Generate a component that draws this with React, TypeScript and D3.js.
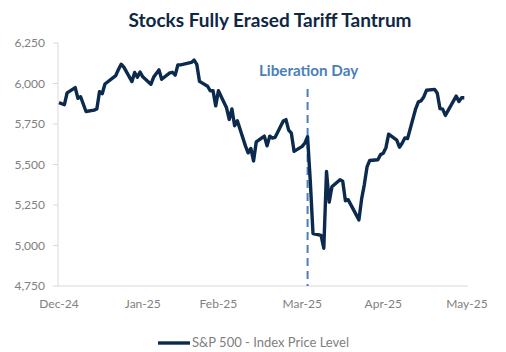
import React from "react";
import * as d3 from "d3";

const dates: string[] = [
  "2024-12-31",
  "2025-01-02","2025-01-03","2025-01-06","2025-01-07","2025-01-08","2025-01-10","2025-01-13","2025-01-14","2025-01-15","2025-01-16","2025-01-17","2025-01-21","2025-01-22","2025-01-23","2025-01-24","2025-01-27","2025-01-28","2025-01-29","2025-01-30","2025-01-31",
  "2025-02-03","2025-02-04","2025-02-05","2025-02-06","2025-02-07","2025-02-10","2025-02-11","2025-02-12","2025-02-13","2025-02-14","2025-02-18","2025-02-19","2025-02-20","2025-02-21","2025-02-24","2025-02-25","2025-02-26","2025-02-27","2025-02-28",
  "2025-03-03","2025-03-04","2025-03-05","2025-03-06","2025-03-07","2025-03-10","2025-03-11","2025-03-12","2025-03-13","2025-03-14","2025-03-17","2025-03-18","2025-03-19","2025-03-20","2025-03-21","2025-03-24","2025-03-25","2025-03-26","2025-03-27","2025-03-28","2025-03-31",
  "2025-04-01","2025-04-02","2025-04-03","2025-04-04","2025-04-07","2025-04-08","2025-04-09","2025-04-10","2025-04-11","2025-04-14","2025-04-15","2025-04-16","2025-04-17","2025-04-21","2025-04-22","2025-04-23","2025-04-24","2025-04-25","2025-04-28","2025-04-29","2025-04-30",
  "2025-05-01","2025-05-02","2025-05-05","2025-05-06","2025-05-07","2025-05-08","2025-05-09","2025-05-12","2025-05-13","2025-05-14","2025-05-15","2025-05-16","2025-05-19","2025-05-20","2025-05-21","2025-05-22","2025-05-23","2025-05-27","2025-05-28","2025-05-29","2025-05-30",
];

const spx: number[] = [
  5882,
  5869, 5942, 5975, 5909, 5918, 5827, 5836, 5843, 5950, 5937, 5997, 6049, 6086, 6119, 6101, 6012, 6068, 6039, 6071, 6041,
  5995, 6038, 6061, 6084, 6026, 6066, 6069, 6052, 6115, 6115, 6130, 6144, 6118, 6013, 5983, 5955, 5956, 5862, 5955,
  5850, 5778, 5843, 5739, 5770, 5615, 5572, 5599, 5522, 5639, 5675, 5615, 5675, 5663, 5668, 5768, 5777, 5712, 5693, 5581, 5612,
  5633, 5671, 5397, 5074, 5062, 4983, 5457, 5268, 5363, 5406, 5397, 5276, 5283, 5158, 5288, 5376, 5485, 5525, 5529, 5561, 5569,
  5604, 5687, 5650, 5607, 5631, 5664, 5660, 5844, 5887, 5893, 5917, 5958, 5964, 5940, 5845, 5842, 5803, 5922, 5889, 5912, 5912,
];

const yTicks: number[] = [4750, 5000, 5250, 5500, 5750, 6000, 6250];
const xTickDates: string[] = ["2024-12-31", "2025-01-31", "2025-02-28", "2025-03-31", "2025-04-30", "2025-05-31"];
const xTickLabels: string[] = ["Dec-24", "Jan-25", "Feb-25", "Mar-25", "Apr-25", "May-25"];
const eventDate = "2025-04-02";
const eventLabel = "Liberation Day";
const title = "Stocks Fully Erased Tariff Tantrum";
const seriesName = "S&P 500 - Index Price Level";

const parse = d3.utcParse("%Y-%m-%d");

export default function App() {
  const W = 506, H = 352;
  const x = d3.scaleUtc()
    .domain([parse(xTickDates[0])!, parse(xTickDates[xTickDates.length - 1])!])
    .range([59, 467]);
  const y = d3.scaleLinear().domain([4750, 6250]).range([286, 43]);
  const pts = dates.map((d, i) => ({ d: parse(d)!, v: spx[i] }));
  const line = d3.line<{ d: Date; v: number }>().x(p => x(p.d)).y(p => y(p.v));
  const ex = x(parse(eventDate)!);
  const font = "Lato, 'Noto Sans', sans-serif";
  return (
    <svg width={W} height={H} style={{ position: "absolute", left: 0, top: 0, background: "#fff" }}>
      <text x={270} y={27} textAnchor="middle" fontFamily={font} fontWeight={700} fontSize={19} fill="#0e2746">{title}</text>
      <line x1={58} x2={58} y1={y(6250)} y2={286} stroke="#d9d9d9" strokeWidth={1} />
      <line x1={58} x2={468} y1={286} y2={286} stroke="#d9d9d9" strokeWidth={1} />
      {yTicks.map(t => (
        <g key={t}>
          <line x1={53} x2={58} y1={y(t)} y2={y(t)} stroke="#d9d9d9" strokeWidth={1} />
          <text x={45} y={y(t)} dy="0.35em" textAnchor="end" fontFamily={font} fontSize={12} fill="#808080">{d3.format(",")(t)}</text>
        </g>
      ))}
      {xTickDates.map((d, i) => (
        <text key={d} x={x(parse(d)!)} y={308} textAnchor="middle" fontFamily={font} fontSize={12} fill="#808080">{xTickLabels[i]}</text>
      ))}
      <line x1={ex} x2={ex} y1={89} y2={286} stroke="#4a7fb8" strokeWidth={2} strokeDasharray="8,5" />
      <text x={ex + 1} y={76} textAnchor="middle" fontFamily={font} fontWeight={700} fontSize={15.2} fill="#4a7fb8">{eventLabel}</text>
      <path d={line(pts) || ""} fill="none" stroke="#0c2a4d" strokeWidth={3.4} strokeLinejoin="round" />
      <line x1={158} x2={190} y1={343} y2={343} stroke="#0c2a4d" strokeWidth={3.4} />
      <text x={192} y={347} fontFamily={font} fontSize={13} fill="#808080">{seriesName}</text>
    </svg>
  );
}
